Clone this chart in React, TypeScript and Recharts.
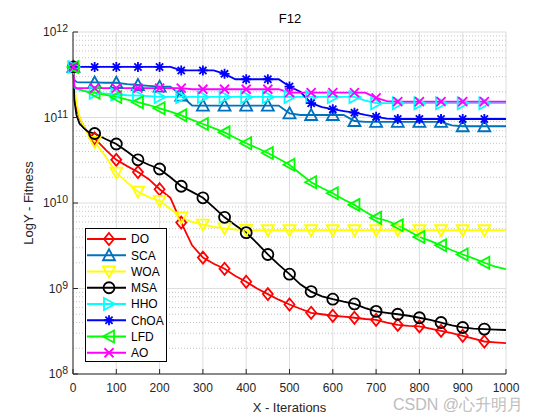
import React from 'react'
import {
  LineChart,
  Line,
  XAxis,
  YAxis,
  CartesianGrid,
  Legend,
  Label,
  ReferenceLine
} from 'recharts'

// iteration grid shared by all curves
const ITER = [1, 3, 8, 15, 25, 35, 50, 75, 100, 125, 150, 175, 200, 225, 250, 275, 300, 325, 350, 375, 400, 425, 450, 475, 500,
  525, 550, 575, 600, 625, 650, 675, 700, 725, 750, 775, 800, 825, 850, 875, 900, 925, 950, 975, 1000]

const DO = [3.9e11, 1.9e11, 1.3e11, 1.0e11, 7.8e10, 6.6e10, 5.7e10, 4.2e10, 3.2e10, 2.7e10, 2.3e10, 1.9e10, 1.45e10, 1.15e10,
  5.9e9, 3.2e9, 2.3e9, 1.95e9, 1.7e9, 1.4e9, 1.2e9, 1.0e9, 8.6e8, 7.4e8, 6.5e8, 5.8e8, 5.2e8, 5.0e8, 4.8e8, 4.7e8, 4.55e8,
  4.4e8, 4.3e8, 4.0e8, 3.75e8, 3.65e8, 3.6e8, 3.4e8, 3.2e8, 3.0e8, 2.8e8, 2.6e8, 2.4e8, 2.35e8, 2.3e8]

const SCA = [3.9e11, 2.75e11, 2.6e11, 2.57e11, 2.57e11, 2.57e11, 2.57e11, 2.55e11, 2.55e11, 2.45e11, 2.4e11, 2.35e11, 2.3e11,
  2.3e11, 1.8e11, 1.38e11, 1.38e11, 1.38e11, 1.38e11, 1.38e11, 1.38e11, 1.38e11, 1.38e11, 1.38e11, 1.12e11, 1.07e11, 1.07e11,
  1.07e11, 1.07e11, 1.07e11, 9.1e10, 8.9e10, 8.9e10, 8.9e10, 8.9e10, 8.9e10, 8.9e10, 8.9e10, 8.9e10, 8.1e10, 7.9e10, 7.9e10,
  7.9e10, 7.9e10, 7.9e10]

const WOA = [3.9e11, 2.5e11, 1.47e11, 1.02e11, 7.9e10, 6.3e10, 5.2e10, 3.5e10, 2.26e10, 1.74e10, 1.36e10, 1.17e10, 1.06e10,
  8.5e9, 6.8e9, 6.0e9, 5.6e9, 5.25e9, 5.05e9, 4.9e9, 4.83e9, 4.8e9, 4.8e9, 4.8e9, 4.8e9, 4.8e9, 4.8e9, 4.8e9, 4.8e9, 4.8e9,
  4.8e9, 4.8e9, 4.8e9, 4.8e9, 4.8e9, 4.8e9, 4.8e9, 4.8e9, 4.8e9, 4.8e9, 4.8e9, 4.8e9, 4.8e9, 4.8e9, 4.8e9]

const MSA = [3.9e11, 1.6e11, 1.07e11, 8.5e10, 7.5e10, 6.8e10, 6.5e10, 5.6e10, 4.9e10, 4.0e10, 3.2e10, 2.8e10, 2.5e10, 2.0e10,
  1.57e10, 1.35e10, 1.15e10, 8.9e9, 6.8e9, 5.5e9, 4.5e9, 3.4e9, 2.5e9, 1.9e9, 1.47e9, 1.12e9, 9.2e8, 8.1e8, 7.5e8, 7.0e8, 6.6e8,
  5.9e8, 5.4e8, 5.2e8, 5.0e8, 4.8e8, 4.55e8, 4.3e8, 4.0e8, 3.7e8, 3.5e8, 3.4e8, 3.35e8, 3.3e8, 3.27e8]

const HHO = [3.9e11, 2.25e11, 2.15e11, 2.1e11, 2.05e11, 2.0e11, 1.95e11, 1.9e11, 1.86e11, 1.82e11, 1.8e11, 1.78e11, 1.74e11,
  1.74e11, 1.74e11, 1.74e11, 1.74e11, 1.74e11, 1.74e11, 1.74e11, 1.74e11, 1.74e11, 1.74e11, 1.74e11, 1.74e11, 1.74e11, 1.74e11,
  1.74e11, 1.74e11, 1.74e11, 1.74e11, 1.58e11, 1.47e11, 1.47e11, 1.47e11, 1.47e11, 1.47e11, 1.47e11, 1.47e11, 1.47e11, 1.47e11,
  1.47e11, 1.47e11, 1.47e11, 1.47e11]

const ChOA = [3.9e11, 3.9e11, 3.9e11, 3.9e11, 3.9e11, 3.9e11, 3.9e11, 3.9e11, 3.9e11, 3.9e11, 3.9e11, 3.9e11, 3.9e11, 3.9e11,
  3.55e11, 3.55e11, 3.55e11, 3.55e11, 3.24e11, 2.8e11, 2.8e11, 2.8e11, 2.8e11, 2.8e11, 2.3e11, 2.0e11, 1.47e11, 1.32e11,
  1.25e11, 1.19e11, 1.14e11, 1.07e11, 1.02e11, 9.7e10, 9.6e10, 9.6e10, 9.6e10, 9.6e10, 9.6e10, 9.6e10, 9.6e10, 9.6e10, 9.6e10,
  9.6e10, 9.6e10]

const LFD = [3.9e11, 2.3e11, 2.2e11, 2.13e11, 2.05e11, 2.0e11, 1.95e11, 1.84e11, 1.74e11, 1.62e11, 1.51e11, 1.4e11, 1.28e11,
  1.17e11, 1.06e11, 9.4e10, 8.4e10, 7.5e10, 6.7e10, 5.75e10, 5.0e10, 4.4e10, 3.85e10, 3.3e10, 2.8e10, 2.2e10, 1.75e10, 1.5e10,
  1.3e10, 1.1e10, 9.5e9, 7.9e9, 6.7e9, 6.2e9, 5.5e9, 4.7e9, 4.0e9, 3.6e9, 3.2e9, 2.8e9, 2.5e9, 2.25e9, 2.0e9, 1.8e9, 1.68e9]

const AO = [3.9e11, 2.3e11, 2.2e11, 2.2e11, 2.2e11, 2.2e11, 2.2e11, 2.2e11, 2.2e11, 2.2e11, 2.2e11, 2.2e11, 2.2e11, 2.2e11,
  2.2e11, 2.14e11, 2.14e11, 2.14e11, 2.14e11, 2.14e11, 2.14e11, 2.14e11, 2.14e11, 2.14e11, 1.95e11, 1.95e11, 1.95e11, 1.95e11,
  1.95e11, 1.95e11, 1.95e11, 1.95e11, 1.7e11, 1.55e11, 1.53e11, 1.53e11, 1.53e11, 1.53e11, 1.53e11, 1.53e11, 1.53e11, 1.53e11,
  1.53e11, 1.53e11, 1.53e11]

const X_TICKS = [0, 100, 200, 300, 400, 500, 600, 700, 800, 900, 1000]
const Y_TICKS = [1e8, 1e9, 1e10, 1e11, 1e12]

const SERIES = [
  { key: 'DO', color: '#ff0000', shape: 'diamond' },
  { key: 'SCA', color: '#0072bd', shape: 'up' },
  { key: 'WOA', color: '#ffff00', shape: 'down' },
  { key: 'MSA', color: '#000000', shape: 'circle' },
  { key: 'HHO', color: '#00ffff', shape: 'right' },
  { key: 'ChOA', color: '#0000ff', shape: 'star' },
  { key: 'LFD', color: '#00ff00', shape: 'left' },
  { key: 'AO', color: '#ff00ff', shape: 'x' }
]

const VALUES: Record<string, number[]> = { DO, SCA, WOA, MSA, HHO, ChOA, LFD, AO }

const rows = ITER.map((iter, i) => {
  const row: any = { iter }
  SERIES.forEach(s => { row[s.key] = VALUES[s.key][i] })
  return row
})

// dotted minor grid at 2..9 x 10^k
const Y_MINOR: number[] = []
for (let e = 8; e < 12; e++) {
  for (let m = 2; m <= 9; m++) Y_MINOR.push(m * Math.pow(10, e))
}

const AXIS = '#262626'
const FONT = '"Liberation Sans", Arial, Helvetica, sans-serif'

const Marker = ({ shape, cx, cy, color }: any) => {
  const p = { fill: 'none', stroke: color, strokeWidth: 1.8 }
  switch (shape) {
    case 'diamond':
      return <polygon {...p} points={`${cx},${cy - 6} ${cx + 5},${cy} ${cx},${cy + 6} ${cx - 5},${cy}`} />
    case 'up':
      return <polygon {...p} points={`${cx},${cy - 6} ${cx + 6},${cy + 5} ${cx - 6},${cy + 5}`} />
    case 'down':
      return <polygon {...p} points={`${cx - 6},${cy - 5} ${cx + 6},${cy - 5} ${cx},${cy + 6}`} />
    case 'right':
      return <polygon {...p} points={`${cx - 5},${cy - 6} ${cx + 6},${cy} ${cx - 5},${cy + 6}`} />
    case 'left':
      return <polygon {...p} points={`${cx + 5},${cy - 6} ${cx - 6},${cy} ${cx + 5},${cy + 6}`} />
    case 'circle':
      return <circle {...p} cx={cx} cy={cy} r={5.5} />
    case 'star':
      return (
        <path {...p} d={`M${cx - 5},${cy}H${cx + 5}M${cx},${cy - 5}V${cy + 5}M${cx - 3.6},${cy - 3.6}L${cx + 3.6},${cy + 3.6}M${cx - 3.6},${cy + 3.6}L${cx + 3.6},${cy - 3.6}`} />
      )
    default:
      return <path {...p} d={`M${cx - 4.5},${cy - 4.5}L${cx + 4.5},${cy + 4.5}M${cx - 4.5},${cy + 4.5}L${cx + 4.5},${cy - 4.5}`} />
  }
}

const makeDot = (s: any) => (props: any) => {
  const { cx, cy, index } = props
  const it = ITER[index]
  if (!(it === 1 || (it % 50 === 0 && it < 1000))) return <g key={`d-${s.key}-${index}`} />
  return (
    <g key={`d-${s.key}-${index}`}>
      <Marker shape={s.shape} cx={cx} cy={cy} color={s.color} />
    </g>
  )
}

const YTick = ({ x, y, payload }: any) => {
  const e = Math.round(Math.log10(payload.value))
  return (
    <text x={x} y={y} textAnchor="end" fill={AXIS} fontSize={12} fontFamily={FONT}>
      <tspan dy="0.35em">10</tspan>
      <tspan dy="-0.4em" fontSize={10.5}>{e}</tspan>
    </text>
  )
}

const noTick = () => <g />

const renderLegend = () => (
  <svg width={82} height={134} style={{ display: 'block' }}>
    <rect x={0.5} y={0.5} width={81} height={133} fill="#fff" stroke="#000" strokeWidth={1} />
    {SERIES.map((s, i) => {
      const y = 11 + i * 16.25
      return (
        <g key={s.key}>
          <line x1={2} x2={41} y1={y} y2={y} stroke={s.color} strokeWidth={1.8} />
          <Marker shape={s.shape} cx={24} cy={y} color={s.color} />
          <text x={46} y={y} dy="0.36em" fontSize={12} fontFamily={FONT} fill="#000">{s.key}</text>
        </g>
      )
    })}
  </svg>
)

export default function App() {
  return (
    <div style={{ position: 'absolute', left: 0, top: 0, width: 560, height: 420, background: '#fff', fontFamily: FONT }}>
      <div style={{ position: 'absolute', left: 190, width: 200, top: 11, textAlign: 'center', fontSize: 13, lineHeight: '16px', color: '#000' }}>
        F12
      </div>
      <LineChart width={560} height={420} data={rows} margin={{ top: 32, right: 54, bottom: 0, left: 0 }}>
        <CartesianGrid stroke="#dedede" />
        {Y_MINOR.map(v => (
          <ReferenceLine key={`m-${v}`} y={v} stroke="#c4c4c4" strokeDasharray="1 2" />
        ))}
        <XAxis
          dataKey="iter"
          type="number"
          domain={[0, 1000]}
          ticks={X_TICKS}
          height={46}
          tickSize={-5}
          tickMargin={14}
          tick={{ fill: AXIS, fontSize: 12, fontFamily: FONT }}
          axisLine={{ stroke: AXIS }}
          tickLine={{ stroke: AXIS }}
        >
          <Label value="X - Iterations" position="insideBottom" offset={8} fill={AXIS} fontSize={13} fontFamily={FONT} />
        </XAxis>
        <XAxis
          xAxisId="t"
          orientation="top"
          dataKey="iter"
          type="number"
          domain={[0, 1000]}
          ticks={X_TICKS}
          height={0}
          tickSize={-5}
          tick={noTick}
          axisLine={{ stroke: AXIS }}
          tickLine={{ stroke: AXIS }}
        />
        <YAxis
          type="number"
          scale="log"
          domain={[1e8, 1e12]}
          ticks={Y_TICKS}
          allowDataOverflow
          width={73}
          tickSize={-5}
          tickMargin={10}
          tick={<YTick />}
          axisLine={{ stroke: AXIS }}
          tickLine={{ stroke: AXIS }}
        >
          <Label value="LogY - Fitness" angle={-90} position="insideLeft" offset={28} fill={AXIS} fontSize={13} fontFamily={FONT} style={{ textAnchor: 'middle' }} />
        </YAxis>
        <YAxis
          yAxisId="r"
          orientation="right"
          type="number"
          scale="log"
          domain={[1e8, 1e12]}
          ticks={Y_TICKS}
          allowDataOverflow
          width={0}
          tickSize={-5}
          tick={noTick}
          axisLine={{ stroke: AXIS }}
          tickLine={{ stroke: AXIS }}
        />
        {SERIES.map(s => (
          <Line
            key={s.key}
            type="linear"
            dataKey={s.key}
            stroke={s.color}
            strokeWidth={1.8}
            dot={makeDot(s)}
            activeDot={false}
            isAnimationActive={false}
          />
        ))}
        <Legend
          layout="vertical"
          align="center"
          verticalAlign="middle"
          wrapperStyle={{ left: 85, top: 228, width: 82, height: 134 }}
          content={renderLegend}
        />
      </LineChart>
      <div style={{ position: 'absolute', left: 393, top: 397, fontSize: 16, lineHeight: '16px', color: '#bdbdbd', fontFamily: FONT, whiteSpace: 'nowrap' }}>
        CSDN @心升明月
      </div>
    </div>
  )
}
